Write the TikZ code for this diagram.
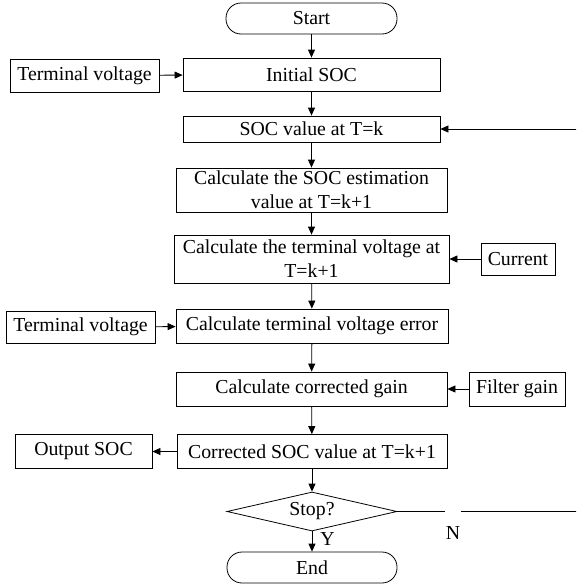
\documentclass[tikz,border=0pt]{standalone}
\usepackage{fontspec}
\setmainfont{Liberation Serif}
\usetikzlibrary{shapes.geometric,arrows.meta}
\begin{document}
\begin{tikzpicture}[x=1pt,y=-1pt,
  font=\fontsize{19.8}{24}\selectfont,
  box/.style={draw, line width=0.8pt, inner sep=0pt, align=center},
  termbox/.style={box, rounded corners=15pt},
  arr/.style={-{Triangle[length=8pt,width=7pt]}, line width=0.8pt},
  ln/.style={line width=0.8pt}]
\useasboundingbox (0,0) rectangle (576,584);
\clip (0,0) rectangle (576,584);
\node[termbox, minimum width=171pt, minimum height=31pt] (start) at (311.5,18.5) {Start};
\node[box, minimum width=257pt, minimum height=33pt] (init) at (311.5,74.5) {Initial SOC};
\node[box, minimum width=149pt, minimum height=33pt] (tv1) at (84.5,75.5) {Terminal voltage};
\node[box, minimum width=257pt, minimum height=26pt] (soc) at (311.5,129) {SOC value at T=k};
\node[box, minimum width=271pt, minimum height=44pt] (est) at (311.5,190) {Calculate the SOC estimation\\value at T=k+1};
\node[box, minimum width=275pt, minimum height=48pt] (tvk) at (311.5,259) {Calculate the terminal voltage at\\T=k+1};
\node[box, minimum width=74pt, minimum height=32pt] (cur) at (518,259) {Current};
\node[box, minimum width=272pt, minimum height=34pt] (err) at (312,326) {Calculate terminal voltage error};
\node[box, minimum width=149pt, minimum height=32pt] (tv2) at (80.5,327) {Terminal voltage};
\node[box, minimum width=271pt, minimum height=34pt] (gain) at (311.5,389) {Calculate corrected gain};
\node[box, minimum width=96pt, minimum height=34pt] (filt) at (517,389) {Filter gain};
\node[box, minimum width=270pt, minimum height=34pt] (corr) at (312,451.5) {Corrected SOC value at T=k+1};
\node[box, minimum width=137pt, minimum height=34pt] (out) at (83.5,451.5) {Output SOC};
\node[draw, line width=0.8pt, diamond, aspect=4.36, inner sep=0pt, minimum width=170pt, minimum height=39pt] (stop) at (312,511.5) {Stop?};
\node[termbox, minimum width=170pt, minimum height=31pt] (end) at (312,567.5) {End};
\coordinate (fb) at (590,0);

\draw[arr] (start) -- (init);
\draw[arr] (tv1) -- (init);
\draw[arr] (init) -- (soc);
\draw[arr] (soc) -- (est);
\draw[arr] (est) -- (tvk);
\draw[arr] (cur) -- (tvk);
\draw[arr] (tvk) -- (err);
\draw[arr] (tv2) -- (err);
\draw[arr] (err) -- (gain);
\draw[arr] (filt) -- (gain);
\draw[arr] (gain) -- (corr);
\draw[arr] (corr) -- (out);
\draw[arr] (corr) -- (stop);
\draw[arr] (stop) -- (end);
\draw[arr] (stop.east) -- (stop.east -| fb) |- (soc.east);
\node[fill=white, inner sep=0pt, minimum width=16pt, minimum height=48pt] (nlab) at (453,533.5) {N};
\node[inner sep=0pt] (ylab) at (327.5,539.5) {Y};
\end{tikzpicture}
\end{document}
